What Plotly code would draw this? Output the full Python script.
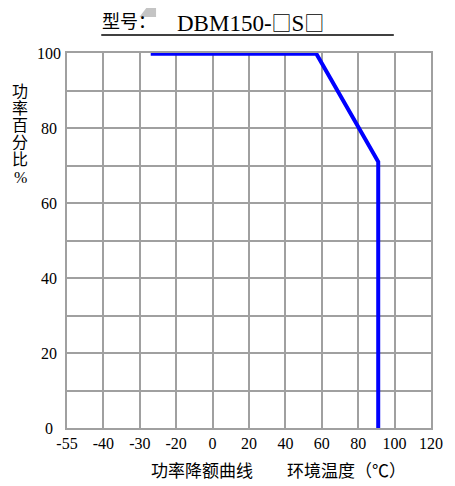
import numpy as np
import plotly.graph_objects as go

# x axis is drawn as equal-width columns with these labels
tick_temps = [-55, -40, -30, -20, 0, 20, 40, 60, 80, 100, 120]
tick_power = [0, 20, 40, 60, 80, 100]

# derating curve
curve_temp = [-27, 57, 91, 91]
curve_power = [99.8, 99.8, 71, 0]

# the page body adds an 8px margin, so lay out in page pixels minus 8
OFF = 8
W, H = 455 - OFF, 486 - OFF
L, R, T, B = 67 - OFF, 16, 53 - OFF, 58
pw, ph = W - L - R, H - T - B


def px(x):
    return (x - OFF - L) / pw


def py(y):
    return (H - B - (y - OFF)) / ph


serif = "Liberation Serif, Noto Sans CJK SC"
box = '<span style="font-family:Noto Sans CJK SC;font-size:20px">□</span>'

col = np.interp(curve_temp, tick_temps, np.arange(len(tick_temps)))

fig = go.Figure()
fig.add_trace(go.Scatter(x=col, y=curve_power, mode="lines",
                         line=dict(color="#0000ff", width=4),
                         hoverinfo="skip", cliponaxis=False))

axis_style = dict(showgrid=True, gridcolor="#a0a0a0", gridwidth=1.5,
                  showline=True, linecolor="#a0a0a0", linewidth=1.5,
                  mirror=True, zeroline=False, ticks="", layer="below traces")

fig.update_layout(
    width=W, height=H,
    margin=dict(l=L, r=R, t=T, b=B),
    paper_bgcolor="white", plot_bgcolor="white",
    showlegend=False,
    font=dict(family=serif, color="black", size=16),
    xaxis=dict(range=[0, len(tick_temps) - 1],
               tickvals=list(range(len(tick_temps))),
               ticktext=[str(t) for t in tick_temps],
               tickfont=dict(size=16, family=serif),
               **axis_style),
    yaxis=dict(range=[0, 100], tickvals=list(range(0, 101, 10)),
               showticklabels=False, **axis_style),
)

ann = []
for v in tick_power:
    ann.append(dict(x=px(49), y=v, xref="paper", yref="y", text=str(v),
                    showarrow=False, xanchor="center", yanchor="middle",
                    font=dict(size=16, family=serif)))

ylab = ["功", "率", "百", "分", "比", "%"]
for i, ch in enumerate(ylab):
    ann.append(dict(x=px(19), y=py(91 + 17.2 * i), xref="paper", yref="paper",
                    text=ch, showarrow=False, xanchor="center", yanchor="middle",
                    font=dict(size=16, family=serif)))

ann.append(dict(x=px(283), y=py(471), xref="paper", yref="paper",
                text="功率降额曲线　　环境温度（℃）", showarrow=False,
                xanchor="center", yanchor="middle",
                font=dict(size=17, family=serif)))
ann.append(dict(x=px(101), y=py(22), xref="paper", yref="paper",
                text="型号：", showarrow=False, xanchor="left", yanchor="middle",
                font=dict(size=18, family=serif)))
ann.append(dict(x=px(177), y=py(22), xref="paper", yref="paper",
                text="DBM150-" + box + "S" + box, showarrow=False,
                xanchor="left", yanchor="middle",
                font=dict(size=23, family=serif)))
fig.update_layout(annotations=ann)

fig.add_shape(type="line", xref="paper", yref="paper",
              x0=px(102), x1=px(401), y0=py(35), y1=py(35),
              line=dict(color="black", width=1.5))
fig.add_shape(type="path", xref="paper", yref="paper",
              path="M {} {} L {} {} L {} {} L {} {} Z".format(
                  px(148), py(OFF), px(158), py(OFF), px(158), py(17), px(141), py(17)),
              fillcolor="#c4c4c4", line=dict(width=0))

fig.write_html("out.html")
